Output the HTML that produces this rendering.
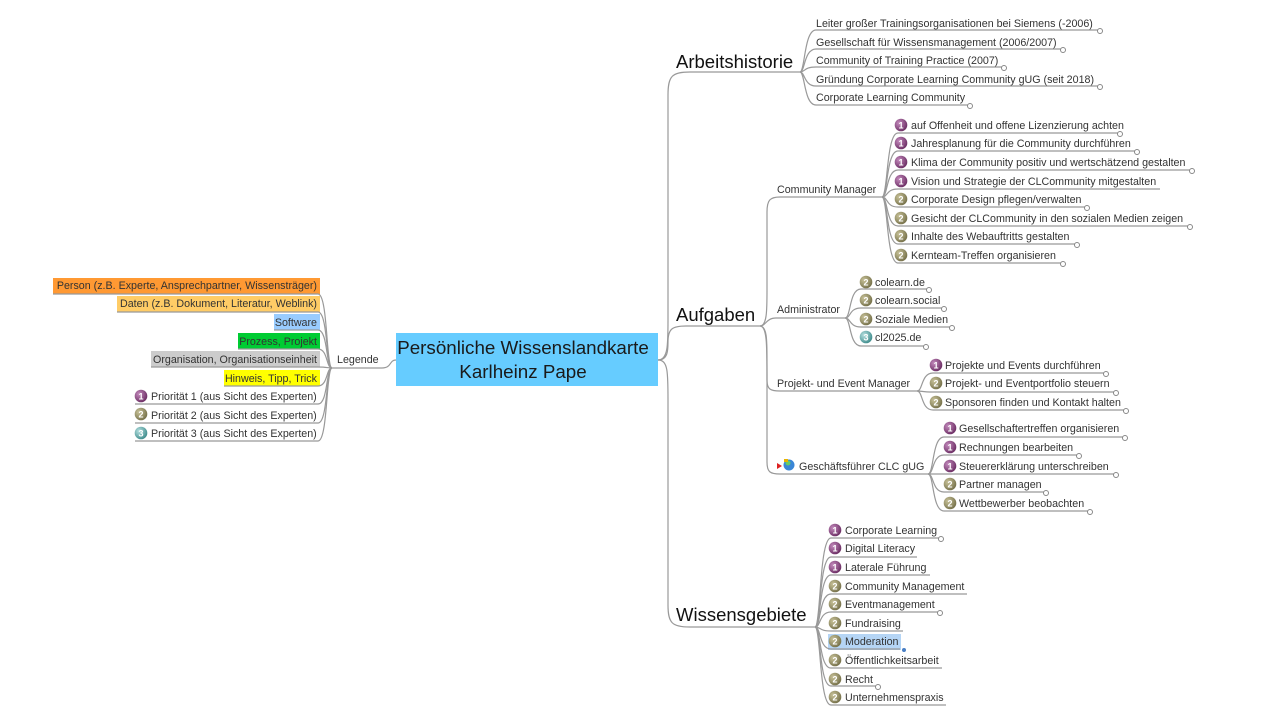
<!DOCTYPE html>
<html><head><meta charset="utf-8"><style>
html,body{margin:0;padding:0;background:#fff;width:1280px;height:720px;overflow:hidden}
svg{display:block}
text{font-family:"Liberation Sans",Arial,sans-serif;fill:#333}
.s{font-size:10.7px}
.l{fill:none;stroke:#999;stroke-width:1.2}
.c{fill:#fff;stroke:#888;stroke-width:1}
.n{font-size:9px;font-weight:bold;fill:#fff;text-anchor:middle}
</style></head><body>
<svg width="1280" height="720" viewBox="0 0 1280 720" xmlns="http://www.w3.org/2000/svg">
<defs>
<radialGradient id="g1" cx="35%" cy="35%" r="70%"><stop offset="0" stop-color="#c48bbd"/><stop offset="1" stop-color="#6b2d63"/></radialGradient>
<radialGradient id="g2" cx="35%" cy="35%" r="70%"><stop offset="0" stop-color="#c9c39a"/><stop offset="1" stop-color="#757049"/></radialGradient>
<radialGradient id="g3" cx="35%" cy="35%" r="70%"><stop offset="0" stop-color="#b6e0e0"/><stop offset="1" stop-color="#3f8c8c"/></radialGradient>
<g id="i1"><circle r="6.3" fill="url(#g1)"/><text class="n" y="3.5">1</text></g>
<g id="i2"><circle r="6.3" fill="url(#g2)"/><text class="n" y="3.5">2</text></g>
<g id="i3"><circle r="6.3" fill="url(#g3)"/><text class="n" y="3.5">3</text></g>
</defs>

<rect x="396" y="333" width="262" height="53" fill="#66ccff"/>
<text x="523" y="354" font-size="18.8" text-anchor="middle" style="fill:#1a1a1a">Persönliche Wissenslandkarte</text>
<text x="523" y="378" font-size="18.8" text-anchor="middle" style="fill:#1a1a1a">Karlheinz Pape</text>

<path class="l" d="M658,360 C668,360 668,345 668,320 V95 C668,76 672,72 690,72 H800"/>
<path class="l" d="M658,360 C668,360 668,350 668,342 C668,329 672,326 686,326 H760"/>
<path class="l" d="M658,360 C668,360 668,372 668,400 V605 C668,623 672,627 690,627 H815"/>
<text x="676" y="68" font-size="18.5" style="fill:#111">Arbeitshistorie</text>
<text x="676" y="321" font-size="18.5" style="fill:#111">Aufgaben</text>
<text x="676" y="621" font-size="18.5" style="fill:#111">Wissensgebiete</text>

<g>
<path class="l" d="M800,72 C805,72 804,30 816,30 H1100"/><circle class="c" cx="1100" cy="31" r="2.5"/>
<path class="l" d="M800,72 C805,72 804,49 816,49 H1063"/><circle class="c" cx="1063" cy="50" r="2.5"/>
<path class="l" d="M800,72 C805,72 804,67 816,67 H1004"/><circle class="c" cx="1004" cy="68" r="2.5"/>
<path class="l" d="M800,72 C805,72 804,86 816,86 H1100"/><circle class="c" cx="1100" cy="87" r="2.5"/>
<path class="l" d="M800,72 C805,72 804,105 816,105 H970"/><circle class="c" cx="970" cy="106" r="2.5"/>
<text class="s" x="816" y="27">Leiter großer Trainingsorganisationen bei Siemens (-2006)</text>
<text class="s" x="816" y="46">Gesellschaft für Wissensmanagement (2006/2007)</text>
<text class="s" x="816" y="64">Community of Training Practice (2007)</text>
<text class="s" x="816" y="83">Gründung Corporate Learning Community gUG (seit 2018)</text>
<text class="s" x="816" y="101">Corporate Learning Community</text>
</g>

<path class="l" d="M760,326 C767,326 767,310 767,290 V212 C767,200 770,197 780,197 H882"/>
<path class="l" d="M760,326 C766,326 766,318 776,318 H845"/>
<path class="l" d="M760,326 C767,326 767,340 767,360 V380 C767,389 770,391 780,391 H917"/>
<path class="l" d="M760,326 C767,326 767,345 767,380 V462 C767,472 770,474 780,474 H928"/>
<text class="s" x="777" y="193">Community Manager</text>
<text class="s" x="777" y="313">Administrator</text>
<text class="s" x="777" y="387">Projekt- und Event Manager</text>
<polygon points="777,463 777,469 782,466" fill="#d22"/>
<circle cx="789" cy="465" r="5.5" fill="#3a86d6"/><circle cx="788" cy="463" r="2.5" fill="#6c6"/><rect x="784" y="459" width="4" height="3" fill="#e8b400"/>
<text class="s" x="799" y="470">Geschäftsführer CLC gUG</text>

<g>
<path class="l" d="M882,197 C888,197 886,133 898,133 H1120"/><circle class="c" cx="1120" cy="134" r="2.5"/>
<path class="l" d="M882,197 C888,197 886,151 898,151 H1137"/><circle class="c" cx="1137" cy="152" r="2.5"/>
<path class="l" d="M882,197 C888,197 886,170 898,170 H1192"/><circle class="c" cx="1192" cy="171" r="2.5"/>
<path class="l" d="M882,197 C888,197 886,189 898,189 H1160"/>
<path class="l" d="M882,197 C888,197 886,207 898,207 H1087"/><circle class="c" cx="1087" cy="208" r="2.5"/>
<path class="l" d="M882,197 C888,197 886,226 898,226 H1190"/><circle class="c" cx="1190" cy="227" r="2.5"/>
<path class="l" d="M882,197 C888,197 886,244 898,244 H1077"/><circle class="c" cx="1077" cy="245" r="2.5"/>
<path class="l" d="M882,197 C888,197 886,263 898,263 H1063"/><circle class="c" cx="1063" cy="264" r="2.5"/>
<use href="#i1" x="901" y="125"/><use href="#i1" x="901" y="143"/><use href="#i1" x="901" y="162"/><use href="#i1" x="901" y="181"/>
<use href="#i2" x="901" y="199"/><use href="#i2" x="901" y="218"/><use href="#i2" x="901" y="236"/><use href="#i2" x="901" y="255"/>
<text class="s" x="911" y="129">auf Offenheit und offene Lizenzierung achten</text>
<text class="s" x="911" y="147">Jahresplanung für die Community durchführen</text>
<text class="s" x="911" y="166">Klima der Community positiv und wertschätzend gestalten</text>
<text class="s" x="911" y="185">Vision und Strategie der CLCommunity mitgestalten</text>
<text class="s" x="911" y="203">Corporate Design pflegen/verwalten</text>
<text class="s" x="911" y="222">Gesicht der CLCommunity in den sozialen Medien zeigen</text>
<text class="s" x="911" y="240">Inhalte des Webauftritts gestalten</text>
<text class="s" x="911" y="259">Kernteam-Treffen organisieren</text>
</g>

<g>
<path class="l" d="M845,318 C851,318 849,289 861,289 H929"/><circle class="c" cx="929" cy="290" r="2.5"/>
<path class="l" d="M845,318 C851,318 849,308 861,308 H944"/><circle class="c" cx="944" cy="309" r="2.5"/>
<path class="l" d="M845,318 C851,318 849,327 861,327 H952"/><circle class="c" cx="952" cy="328" r="2.5"/>
<path class="l" d="M845,318 C851,318 849,346 861,346 H926"/><circle class="c" cx="926" cy="347" r="2.5"/>
<use href="#i2" x="866" y="282"/><use href="#i2" x="866" y="300"/><use href="#i2" x="866" y="319"/><use href="#i3" x="866" y="337"/>
<text class="s" x="875" y="286">colearn.de</text>
<text class="s" x="875" y="304">colearn.social</text>
<text class="s" x="875" y="323">Soziale Medien</text>
<text class="s" x="875" y="341">cl2025.de</text>
</g>

<g>
<path class="l" d="M917,391 C923,391 921,373 933,373 H1106"/><circle class="c" cx="1106" cy="374" r="2.5"/>
<path class="l" d="M917,391 C923,391 921,392 933,392 H1116"/><circle class="c" cx="1116" cy="393" r="2.5"/>
<path class="l" d="M917,391 C923,391 921,410 933,410 H1126"/><circle class="c" cx="1126" cy="411" r="2.5"/>
<use href="#i1" x="936" y="365"/><use href="#i2" x="936" y="383"/><use href="#i2" x="936" y="402"/>
<text class="s" x="945" y="369">Projekte und Events durchführen</text>
<text class="s" x="945" y="387">Projekt- und Eventportfolio steuern</text>
<text class="s" x="945" y="406">Sponsoren finden und Kontakt halten</text>
</g>

<g>
<path class="l" d="M928,474 C934,474 932,437 944,437 H1125"/><circle class="c" cx="1125" cy="438" r="2.5"/>
<path class="l" d="M928,474 C934,474 932,455 944,455 H1079"/><circle class="c" cx="1079" cy="456" r="2.5"/>
<path class="l" d="M928,474 C934,474 932,474 944,474 H1116"/><circle class="c" cx="1116" cy="475" r="2.5"/>
<path class="l" d="M928,474 C934,474 932,492 944,492 H1046"/><circle class="c" cx="1046" cy="493" r="2.5"/>
<path class="l" d="M928,474 C934,474 932,511 944,511 H1090"/><circle class="c" cx="1090" cy="512" r="2.5"/>
<use href="#i1" x="950" y="428"/><use href="#i1" x="950" y="447"/><use href="#i1" x="950" y="466"/><use href="#i2" x="950" y="484"/><use href="#i2" x="950" y="503"/>
<text class="s" x="959" y="432">Gesellschaftertreffen organisieren</text>
<text class="s" x="959" y="451">Rechnungen bearbeiten</text>
<text class="s" x="959" y="470">Steuererklärung unterschreiben</text>
<text class="s" x="959" y="488">Partner managen</text>
<text class="s" x="959" y="507">Wettbewerber beobachten</text>
</g>

<g>
<rect x="828" y="634" width="73" height="16" fill="#b5d5f5"/>
<path class="l" d="M815,627 C821,627 819,538 831,538 H941"/><circle class="c" cx="941" cy="539" r="2.5"/>
<path class="l" d="M815,627 C821,627 819,557 831,557 H917"/>
<path class="l" d="M815,627 C821,627 819,575 831,575 H930"/>
<path class="l" d="M815,627 C821,627 819,594 831,594 H967"/>
<path class="l" d="M815,627 C821,627 819,612 831,612 H940"/><circle class="c" cx="940" cy="613" r="2.5"/>
<path class="l" d="M815,627 C821,627 819,631 831,631 H903"/>
<path class="l" d="M815,627 C821,627 819,649 831,649 H900"/><circle cx="904" cy="650" r="2" fill="#4a7fc4"/>
<path class="l" d="M815,627 C821,627 819,668 831,668 H942"/>
<path class="l" d="M815,627 C821,627 819,686 831,686 H878"/><circle class="c" cx="878" cy="687" r="2.5"/>
<path class="l" d="M815,627 C821,627 819,705 831,705 H946"/>
<use href="#i1" x="835" y="530"/><use href="#i1" x="835" y="548"/><use href="#i1" x="835" y="567"/>
<use href="#i2" x="835" y="586"/><use href="#i2" x="835" y="604"/><use href="#i2" x="835" y="623"/><use href="#i2" x="835" y="641"/><use href="#i2" x="835" y="660"/><use href="#i2" x="835" y="679"/><use href="#i2" x="835" y="697"/>
<text class="s" x="845" y="534">Corporate Learning</text>
<text class="s" x="845" y="552">Digital Literacy</text>
<text class="s" x="845" y="571">Laterale Führung</text>
<text class="s" x="845" y="590">Community Management</text>
<text class="s" x="845" y="608">Eventmanagement</text>
<text class="s" x="845" y="627">Fundraising</text>
<text class="s" x="845" y="645">Moderation</text>
<text class="s" x="845" y="664">Öffentlichkeitsarbeit</text>
<text class="s" x="845" y="683">Recht</text>
<text class="s" x="845" y="701">Unternehmenspraxis</text>
</g>

<path class="l" d="M396,360 C389,360 392,368 382,368 H332"/>
<text class="s" x="337" y="363">Legende</text>
<g>
<rect x="53" y="278" width="267" height="16" fill="#ff9933"/>
<rect x="117" y="296" width="203" height="16" fill="#ffcc66"/>
<rect x="274" y="314" width="46" height="16" fill="#99ccff"/>
<rect x="238" y="333" width="82" height="16" fill="#00cc33"/>
<rect x="151" y="351" width="169" height="16" fill="#cccccc"/>
<rect x="224" y="370" width="96" height="16" fill="#ffff00"/>
<path class="l" d="M332,368 C326,368 328,294 318,294 H53"/>
<path class="l" d="M332,368 C326,368 328,312 318,312 H117"/>
<path class="l" d="M332,368 C326,368 328,330 318,330 H274"/>
<path class="l" d="M332,368 C326,368 328,349 318,349 H238"/>
<path class="l" d="M332,368 C326,368 328,367 318,367 H151"/>
<path class="l" d="M332,368 C326,368 328,386 318,386 H224"/>
<path class="l" d="M332,368 C326,368 328,404 318,404 H135"/>
<path class="l" d="M332,368 C326,368 328,423 318,423 H135"/>
<path class="l" d="M332,368 C326,368 328,441 318,441 H135"/>
<text class="s" x="317" y="289" text-anchor="end">Person (z.B. Experte, Ansprechpartner, Wissensträger)</text>
<text class="s" x="317" y="307" text-anchor="end">Daten (z.B. Dokument, Literatur, Weblink)</text>
<text class="s" x="317" y="326" text-anchor="end">Software</text>
<text class="s" x="317" y="345" text-anchor="end">Prozess, Projekt</text>
<text class="s" x="317" y="363" text-anchor="end">Organisation, Organisationseinheit</text>
<text class="s" x="317" y="382" text-anchor="end">Hinweis, Tipp, Trick</text>
<use href="#i1" x="141" y="396"/><use href="#i2" x="141" y="414"/><use href="#i3" x="141" y="433"/>
<text class="s" x="151" y="400">Priorität 1 (aus Sicht des Experten)</text>
<text class="s" x="151" y="419">Priorität 2 (aus Sicht des Experten)</text>
<text class="s" x="151" y="437">Priorität 3 (aus Sicht des Experten)</text>
</g>
</svg>
</body></html>
